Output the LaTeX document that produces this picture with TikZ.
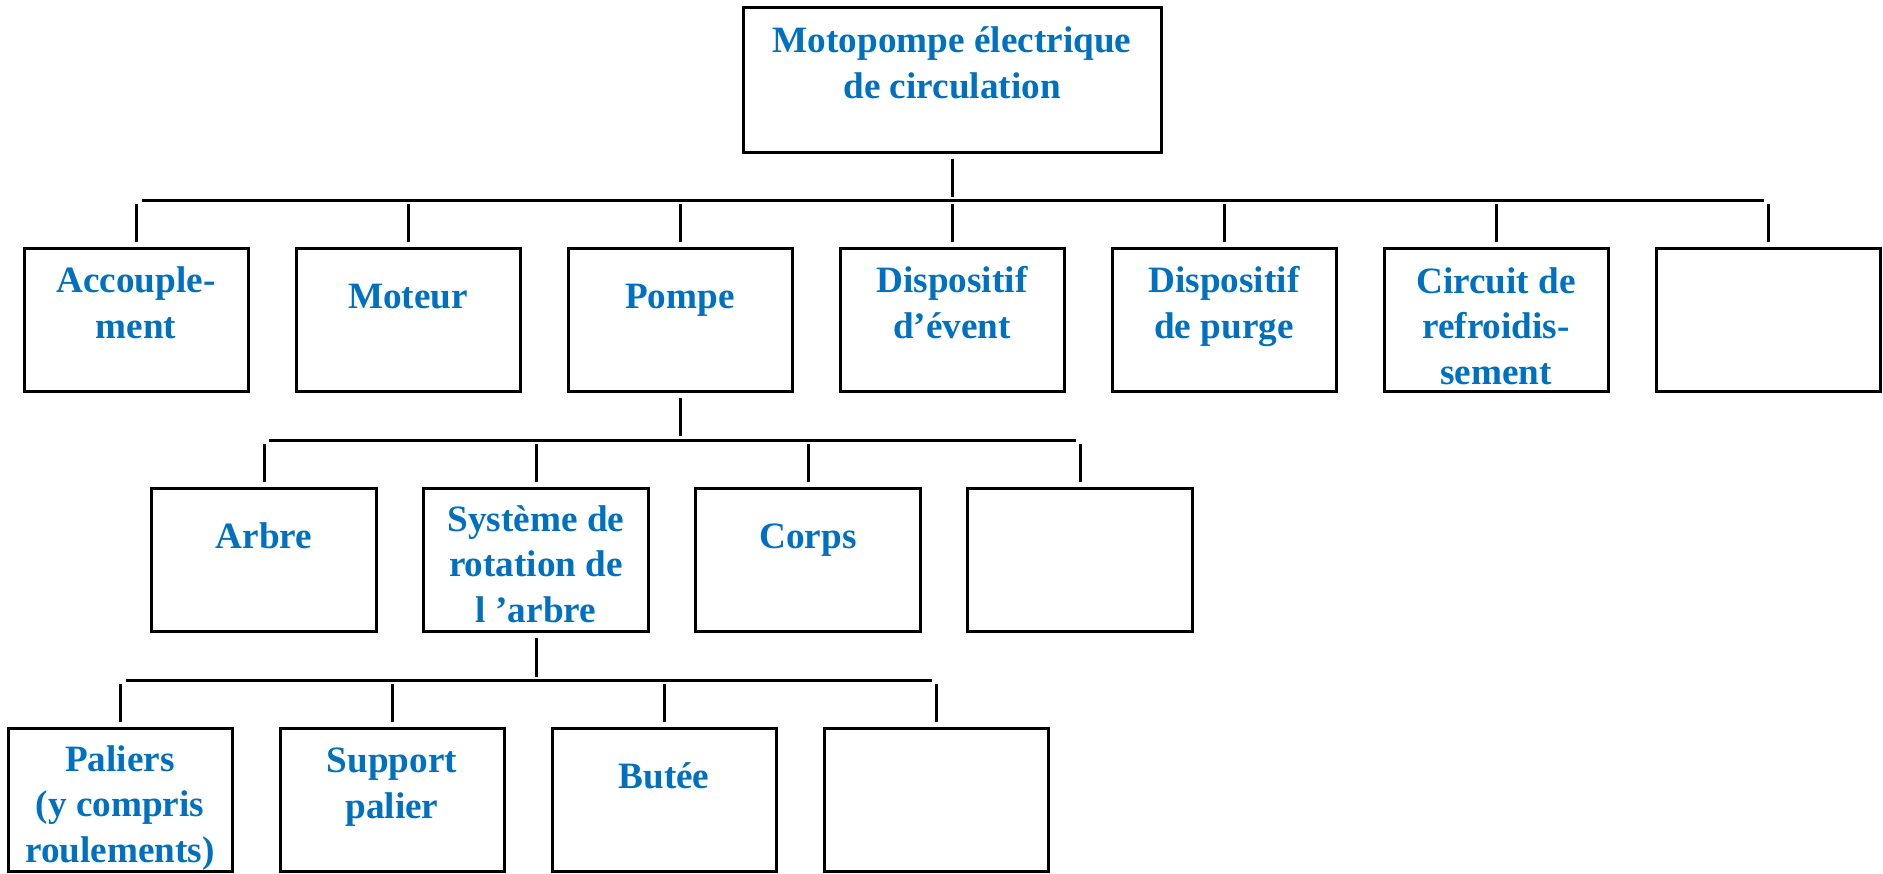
\documentclass[tikz,border=0pt]{standalone}
\usepackage{fontspec}
\setmainfont{Liberation Serif}
\usepackage{tikz}
\usepackage{xcolor}
\definecolor{boxblue}{HTML}{0070C0}

\begin{document}
\begin{tikzpicture}[x=0.5pt,y=-0.5pt,
        box/.style={draw,line width=1.5pt,minimum width=112pt,minimum height=71.5pt,inner sep=0pt},
        lbl/.style={text=boxblue,font=\bfseries\fontsize{18.6}{22.75}\selectfont,align=center,anchor=base,inner sep=0pt},
        link/.style={line width=1.5pt}]
        \useasboundingbox (0,0) rectangle (1883,873);

        % Top box
        \node[box,minimum width=209pt,minimum height=72.5pt] (motopompe) at (952,79.5) {};
        \node[lbl] (tmotopompe) at (952,98) {Motopompe électrique\\de circulation};

        % First level
        \node[box] (accouplement) at (136,319.5) {};
        \node[box] (moteur) at (408,319.5) {};
        \node[box] (pompe) at (680,319.5) {};
        \node[box] (event) at (952,319.5) {};
        \node[box] (purge) at (1224,319.5) {};
        \node[box] (refroid) at (1496,319.5) {};
        \node[box] (videA) at (1768,319.5) {};

        \node[lbl] (taccouplement) at (136,338) {Accouple-\\ment};
        \node[lbl] (tmoteur) at (408,308) {Moteur};
        \node[lbl] (tpompe) at (680,308) {Pompe};
        \node[lbl] (tevent) at (952,338) {Dispositif\\d’évent};
        \node[lbl] (tpurge) at (1224,338) {Dispositif\\de purge};
        \node[lbl] (trefroid) at (1496,384) {Circuit de\\refroidis-\\sement};

        % Second level (pompe)
        \node[box,minimum width=112.5pt] (arbre) at (264,559.5) {};
        \node[box,minimum width=112.5pt] (rotation) at (536,559.5) {};
        \node[box,minimum width=112.5pt] (corps) at (808,559.5) {};
        \node[box,minimum width=112.5pt] (videB) at (1080,559.5) {};

        \node[lbl] (tarbre) at (264,548) {Arbre};
        \node[lbl] (trotation) at (536,622) {Système de\\rotation de\\l ’arbre};
        \node[lbl] (tcorps) at (808,548) {Corps};

        % Third level (rotation)
        \node[box] (paliers) at (120,799.5) {};
        \node[box] (support) at (392,799.5) {};
        \node[box] (butee) at (664,799.5) {};
        \node[box] (videC) at (936,799.5) {};

        \node[lbl] (tpaliers) at (120,862) {Paliers\\(y compris\\roulements)};
        \node[lbl] (tsupport) at (392,818) {Support\\palier};
        \node[lbl] (tbutee) at (664,788) {Butée};

        % Links from top box
        \coordinate (busAw) at (142,200);
        \coordinate (busAe) at (1764,200);
        \draw[link] ([yshift=-2.5pt]motopompe.south) -- ++(0,38);
        \draw[link] (busAw) -- (busAe);
        \foreach \n in {accouplement,moteur,pompe,event,purge,refroid,videA}
            \draw[link] ([yshift=2.5pt]\n.north) -- ++(0,-38);

        % Links from pompe
        \coordinate (busBw) at (269,440);
        \coordinate (busBe) at (1076,440);
        \draw[link] ([yshift=-2.5pt]pompe.south) -- ++(0,38);
        \draw[link] (busBw) -- (busBe);
        \foreach \n in {arbre,rotation,corps,videB}
            \draw[link] ([yshift=2.5pt]\n.north) -- ++(0,-38);

        % Links from rotation
        \coordinate (busCw) at (126,680);
        \coordinate (busCe) at (932,680);
        \draw[link] ([yshift=-2.5pt]rotation.south) -- ++(0,39);
        \draw[link] (busCw) -- (busCe);
        \foreach \n in {paliers,support,butee,videC}
            \draw[link] ([yshift=2.5pt]\n.north) -- ++(0,-38);
    \end{tikzpicture}
\end{document}
